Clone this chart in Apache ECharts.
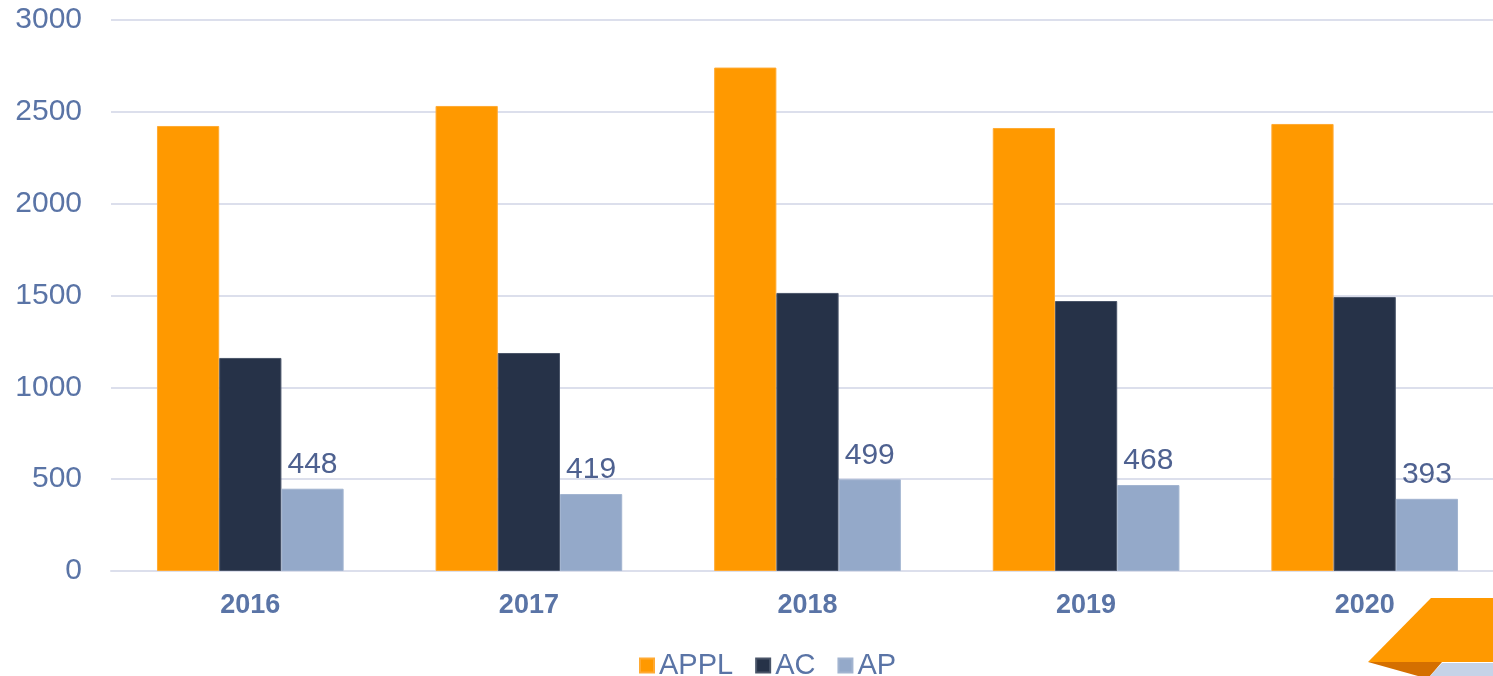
<!DOCTYPE html>
<html>
<head>
<meta charset="utf-8">
<script src="https://cdn.jsdelivr.net/npm/echarts@6/dist/echarts.min.js"></script>
<style>
html,body{margin:0;padding:0;background:#fff;overflow:hidden;width:1493px;height:676px;}
#chart{width:1504px;height:676px;}
</style>
</head>
<body>
<div id="chart"></div>
<script>
var categories = ['2016', '2017', '2018', '2019', '2020'];
var applValues = [2423, 2532, 2741, 2412, 2434];
var acValues = [1160, 1187, 1514, 1470, 1492];
var apValues = [448, 419, 499, 468, 393];
var seriesNames = ['APPL', 'AC', 'AP'];

var axisColor = '#5A74A6';
var labelColor = '#4E6190';
var gridColor = '#DCDFEC';
var font = 'Liberation Sans, Arial, sans-serif';

var chart = echarts.init(document.getElementById('chart'));
chart.setOption({
  animation: false,
  backgroundColor: '#ffffff',
  grid: { left: 111, right: 0, top: 20, bottom: 105, containLabel: false },
  legend: {
    data: seriesNames,
    left: 634,
    top: 646,
    itemWidth: 14,
    itemHeight: 14,
    itemGap: 22,
    icon: 'rect',
    textStyle: { color: axisColor, fontSize: 29, fontFamily: font }
  },
  xAxis: {
    type: 'category',
    data: categories,
    axisLine: { show: true, lineStyle: { color: gridColor, width: 2 } },
    axisTick: { show: false },
    axisLabel: { color: axisColor, fontSize: 27, fontWeight: 'bold', fontFamily: font, margin: 21 }
  },
  yAxis: {
    type: 'value',
    min: 0,
    max: 3000,
    interval: 500,
    axisLine: { show: false },
    axisTick: { show: false },
    splitLine: { lineStyle: { color: gridColor, width: 2 } },
    axisLabel: { color: axisColor, fontSize: 30, fontFamily: font, margin: 29, formatter: function (v) { return String(v); } }
  },
  series: [
    {
      name: seriesNames[0], type: 'bar', data: applValues,
      barGap: '0%', barCategoryGap: '33%',
      itemStyle: { color: '#FF9900', borderColor: '#FFAA33', borderWidth: 1 }
    },
    {
      name: seriesNames[1], type: 'bar', data: acValues,
      barGap: '0%', barCategoryGap: '33%',
      itemStyle: { color: '#263248', borderColor: '#4A5569', borderWidth: 1 }
    },
    {
      name: seriesNames[2], type: 'bar', data: apValues,
      barGap: '0%', barCategoryGap: '33%',
      itemStyle: { color: '#94A9C9', borderColor: '#A2B4D0', borderWidth: 1 },
      label: { show: true, position: 'top', distance: 9, color: labelColor, fontSize: 30, fontFamily: font }
    }
  ],
  graphic: [
    { type: 'polygon', silent: true, shape: { points: [[1431, 598], [1504, 598], [1504, 662], [1368, 662]] }, style: { fill: '#FF9900' } },
    { type: 'polygon', silent: true, shape: { points: [[1368, 662], [1442, 662], [1430, 676], [1418, 676]] }, style: { fill: '#D46F00' } },
    { type: 'polygon', silent: true, shape: { points: [[1442, 663], [1504, 663], [1504, 676], [1430, 676]] }, style: { fill: '#C6D3E8' } }
  ]
});
</script>
</body>
</html>
